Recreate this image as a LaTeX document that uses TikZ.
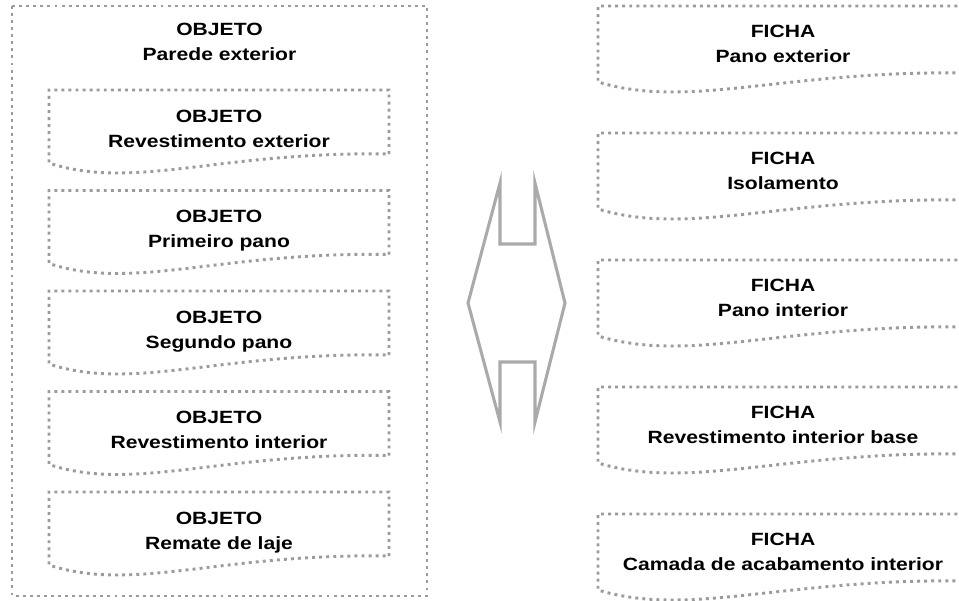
\documentclass[tikz,border=0pt]{standalone}
\usepackage{fontspec}
\setmainfont{Liberation Sans}[FakeStretch=1.19]
\definecolor{dotgray}{RGB}{155,155,155}
\definecolor{arrgray}{RGB}{170,170,170}
\tikzset{
  dotbox/.style={draw=dotgray, line width=2.2pt, dash pattern=on 2.2pt off 3.1pt},
  lbl/.style={anchor=base, inner sep=0pt, font=\fontsize{13.3}{19}\selectfont\bfseries, text=black},
  bigarrow/.style={draw=arrgray, line width=2.3pt, line join=miter}
}
% #1 left, #2 top, #3 width, #4 height (to left-bottom corner)
\newcommand\docbox[4]{%
  \draw[dotbox] ({#1+#3},{#2+#4-9}) -- ({#1+#3},#2) -- (#1,#2) -- (#1,{#2+#4})
    .. controls ({#1+0.25*#3},{#2+#4+28}) and ({#1+0.5*#3},{#2+#4-12}) .. ({#1+#3},{#2+#4-9});
}
\begin{document}
\begin{tikzpicture}[x=0.75pt,y=-0.75pt]
\useasboundingbox (0,0) rectangle (959,600);
\clip (0,0) rectangle (959,600);

% outer object box
\draw[dotbox] (12,6) rectangle (427,596);
\node[lbl] (ot) at (219.5,35.3) {OBJETO};
\node[lbl] (on) at (219.5,60.7) {Parede exterior};

% inner object boxes
\docbox{49}{90}{340}{73}
\node[lbl] (t1) at (219,122) {OBJETO};
\node[lbl] (n1) at (219,147) {Revestimento exterior};

\docbox{49}{190.5}{340}{73}
\node[lbl] (t2) at (219,222.5) {OBJETO};
\node[lbl] (n2) at (219,247.5) {Primeiro pano};

\docbox{49}{291}{340}{73}
\node[lbl] (t3) at (219,323) {OBJETO};
\node[lbl] (n3) at (219,348) {Segundo pano};

\docbox{49}{391.5}{340}{73}
\node[lbl] (t4) at (219,423.5) {OBJETO};
\node[lbl] (n4) at (219,448.5) {Revestimento interior};

\docbox{49}{492}{340}{73}
\node[lbl] (t5) at (219,524) {OBJETO};
\node[lbl] (n5) at (219,549) {Remate de laje};

% double arrow
\draw[bigarrow] (500,183) -- (500,244) -- (535,244) -- (535,183) -- (565,303)
  -- (535,422) -- (535,362) -- (500,362) -- (500,422) -- (468,303) -- cycle;

% right FICHA boxes
\docbox{598}{6}{370}{76}
\node[lbl] (f1) at (783,37) {FICHA};
\node[lbl] (g1) at (783,62) {Pano exterior};

\docbox{598}{133}{370}{76}
\node[lbl] (f2) at (783,164) {FICHA};
\node[lbl] (g2) at (783,189) {Isolamento};

\docbox{598}{260}{370}{76}
\node[lbl] (f3) at (783,291) {FICHA};
\node[lbl] (g3) at (783,316) {Pano interior};

\docbox{598}{387}{370}{76}
\node[lbl] (f4) at (783,418) {FICHA};
\node[lbl] (g4) at (783,443) {Revestimento interior base};

\docbox{598}{514}{370}{76}
\node[lbl] (f5) at (783,545) {FICHA};
\node[lbl] (g5) at (783,570) {Camada de acabamento interior};
\end{tikzpicture}
\end{document}
